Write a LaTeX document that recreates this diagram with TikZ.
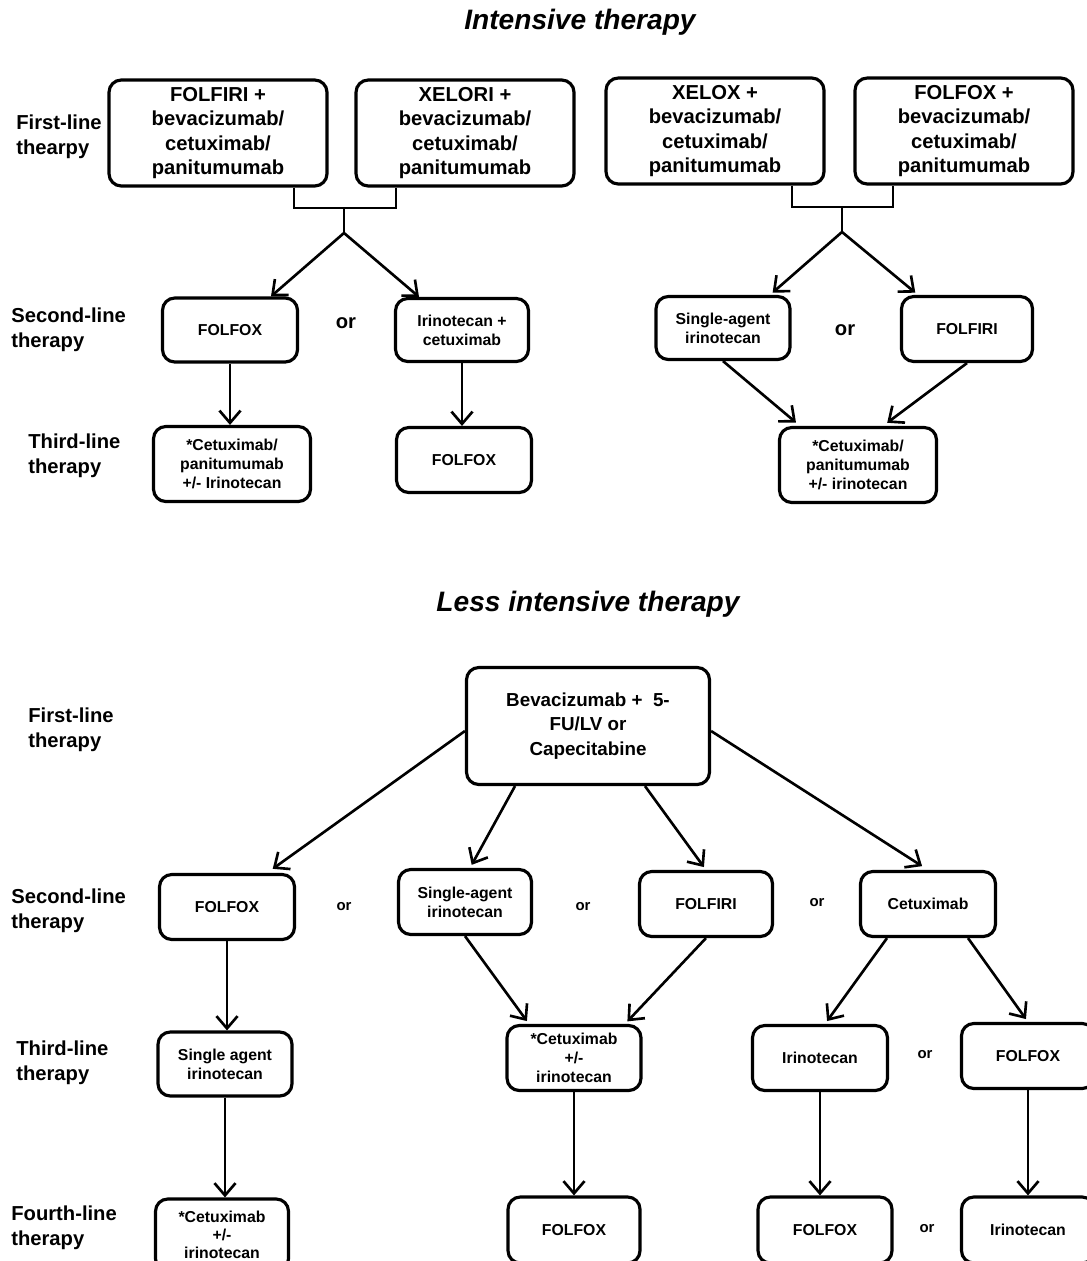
\documentclass[tikz,border=0pt]{standalone}
\usepackage{fontspec}
\setmainfont{Liberation Sans}
\usetikzlibrary{arrows.meta}

\begin{document}
\begin{tikzpicture}[x=0.02cm, y=-0.02cm, line width=1.5pt,
  box/.style 2 args={draw, line width=1.8pt, rounded corners=7pt, align=center, inner sep=1pt, minimum width=#1*0.02cm, minimum height=#2*0.02cm},
  bigtext/.style={font=\fontsize{11.5}{13.8}\selectfont\bfseries},
  smalltext/.style={font=\fontsize{9}{10.8}\selectfont\bfseries},
  lab/.style={anchor=west, align=left, inner sep=0pt, font=\fontsize{11.5}{14.2}\selectfont\bfseries},
  heading/.style={font=\fontsize{16}{19}\selectfont\bfseries\itshape},
  ortext/.style={font=\fontsize{8.5}{10}\selectfont\bfseries},
  arr/.style={-{Straight Barb[length=7pt,width=12pt,line width=1.5pt]}}]
\useasboundingbox (0,0) rectangle (1086,1261);
\node[heading] (toptitle) at (580,22) {Intensive therapy};
\node[lab] (firstlab) at (15,137) {First-line\\thearpy};
\node[lab] (secondlab) at (10,330) {Second-line\\therapy};
\node[lab] (thirdlab) at (27,456) {Third-line\\therapy};
\node[box={218}{106}, bigtext] (folfiri) at (218,133) {FOLFIRI +\\bevacizumab/\\cetuximab/\\panitumumab};
\node[box={218}{106}, bigtext] (xelori) at (465,133) {XELORI +\\bevacizumab/\\cetuximab/\\panitumumab};
\node[box={218}{106}, bigtext] (xelox) at (715,131) {XELOX +\\bevacizumab/\\cetuximab/\\panitumumab};
\node[box={218}{106}, bigtext] (folfox) at (964,131) {FOLFOX +\\bevacizumab/\\cetuximab/\\panitumumab};
\coordinate (lbl) at (294,208); \coordinate (lbr) at (396,208); \coordinate (ljoin) at (344,208); \coordinate (lsplit) at (344,233);
\coordinate (rbl) at (792,207); \coordinate (rbr) at (893,207); \coordinate (rjoin) at (842,207); \coordinate (rsplit) at (842,232);
\draw (folfiri.south -| lbl) -- (lbl) -- (lbr) -- (xelori.south -| lbr) (ljoin) -- (lsplit);
\draw (xelox.south -| rbl) -- (rbl) -- (rbr) -- (folfox.south -| rbr) (rjoin) -- (rsplit);
\node[box={135}{64}, smalltext] (folfoxtwo) at (230,330) {FOLFOX};
\node[bigtext] (ortwoa) at (346,323) {or};
\node[box={133}{63}, smalltext] (irinocet) at (462,330) {Irinotecan +\\cetuximab};
\node[box={134}{63}, smalltext] (singletwo) at (723,328) {Single-agent\\irinotecan};
\node[bigtext] (ortwob) at (845,330) {or};
\node[box={131}{65}, smalltext] (folfiritwo) at (967,329) {FOLFIRI};
\node[box={157}{75}, smalltext] (cetuxthree) at (232,464) {*Cetuximab/\\panitumumab\\+/- Irinotecan};
\node[box={135}{65}, smalltext] (folfoxthree) at (464,460) {FOLFOX};
\node[box={157}{75}, smalltext] (cetuxthreeb) at (858,465) {*Cetuximab/\\panitumumab\\+/- irinotecan};
\draw[arr] (lsplit) -- ([xshift=0.82cm]folfoxtwo.north);
\draw[arr] (lsplit) -- ([xshift=-0.86cm]irinocet.north);
\draw[arr, shorten >=2pt] (rsplit) -- ([xshift=0.94cm]singletwo.north);
\draw[arr, shorten >=2pt] (rsplit) -- ([xshift=-0.98cm]folfiritwo.north);
\draw[arr] (folfoxtwo.south) -- (folfoxtwo.south |- cetuxthree.north);
\draw[arr] (irinocet.south) -- (irinocet.south |- folfoxthree.north);
\draw[arr, shorten >=3pt] (singletwo.south) -- ([xshift=-1.16cm]cetuxthreeb.north);
\draw[arr, shorten >=3pt] (folfiritwo.south) -- ([xshift=0.5cm]cetuxthreeb.north);
\node[heading] (bottomtitle) at (588,604) {Less intensive therapy};
\node[lab] (firstlabb) at (27,730) {First-line\\therapy};
\node[lab] (secondlabb) at (10,911) {Second-line\\therapy};
\node[lab] (thirdlabb) at (15,1063) {Third-line\\therapy};
\node[lab] (fourthlab) at (10,1228) {Fourth-line\\therapy};
\node[box={243}{117}, font=\fontsize{10.7}{14}\selectfont\bfseries] (bev) at (588,726) {Bevacizumab +\ \ 5-\\FU/LV or\\Capecitabine};
\node[box={135}{65}, smalltext] (folfoxb) at (227,907) {FOLFOX};
\node[ortext] (orba) at (344,907) {or};
\node[box={133}{65}, smalltext] (singleb) at (465,902) {Single-agent\\irinotecan};
\node[ortext] (orbb) at (583,907) {or};
\node[box={133}{65}, smalltext] (folfirib) at (706,904) {FOLFIRI};
\node[ortext] (orbc) at (817,903) {or};
\node[box={135}{65}, smalltext] (cetuxb) at (928,904) {Cetuximab};
\node[box={134}{64}, smalltext] (singlethree) at (225,1064) {Single agent\\irinotecan};
\node[box={134}{65}, smalltext] (cetuxthreec) at (574,1058) {*Cetuximab\\+/-\\irinotecan};
\node[box={135}{65}, smalltext] (irinothree) at (820,1058) {Irinotecan};
\node[ortext] (orbd) at (925,1055) {or};
\node[box={133}{65}, smalltext] (folfoxthreeb) at (1028,1056) {FOLFOX};
\node[box={133}{72}, smalltext, font=\fontsize{9}{10.2}\selectfont\bfseries] (cetuxfour) at (222,1235) {*Cetuximab\\+/-\\irinotecan};
\node[box={132}{66}, smalltext] (folfoxfour) at (574,1230) {FOLFOX};
\node[box={134}{66}, smalltext] (folfoxfourb) at (825,1230) {FOLFOX};
\node[ortext] (orbe) at (927,1229) {or};
\node[box={133}{66}, smalltext] (irinofour) at (1028,1230) {Irinotecan};
\draw[arr, shorten >=4pt] ([yshift=-0.1cm]bev.west) -- ([xshift=0.8cm]folfoxb.north);
\draw[arr, shorten >=2pt] ([xshift=-1.46cm]bev.south) -- ([xshift=0.1cm]singleb.north);
\draw[arr, shorten >=2pt] ([xshift=1.14cm]bev.south) -- (folfirib.north);
\draw[arr, shorten >=4pt] ([yshift=-0.1cm]bev.east) -- (cetuxb.north);
\draw[arr] (folfoxb.south) -- (folfoxb.south |- singlethree.north);
\draw[arr, shorten >=2pt] (singleb.south) -- ([xshift=-0.9cm]cetuxthreec.north);
\draw[arr, shorten >=2pt] (folfirib.south) -- ([xshift=1.02cm]cetuxthreec.north);
\draw[arr, shorten >=2pt] ([xshift=-0.82cm]cetuxb.south) -- ([xshift=0.1cm]irinothree.north);
\draw[arr, shorten >=2pt] ([xshift=0.8cm]cetuxb.south) -- (folfoxthreeb.north);
\draw[arr] (singlethree.south) -- (singlethree.south |- cetuxfour.north);
\draw[arr] (cetuxthreec.south) -- (cetuxthreec.south |- folfoxfour.north);
\draw[arr] (irinothree.south) -- (irinothree.south |- folfoxfourb.north);
\draw[arr] (folfoxthreeb.south) -- (folfoxthreeb.south |- irinofour.north);
\end{tikzpicture}
\end{document}
